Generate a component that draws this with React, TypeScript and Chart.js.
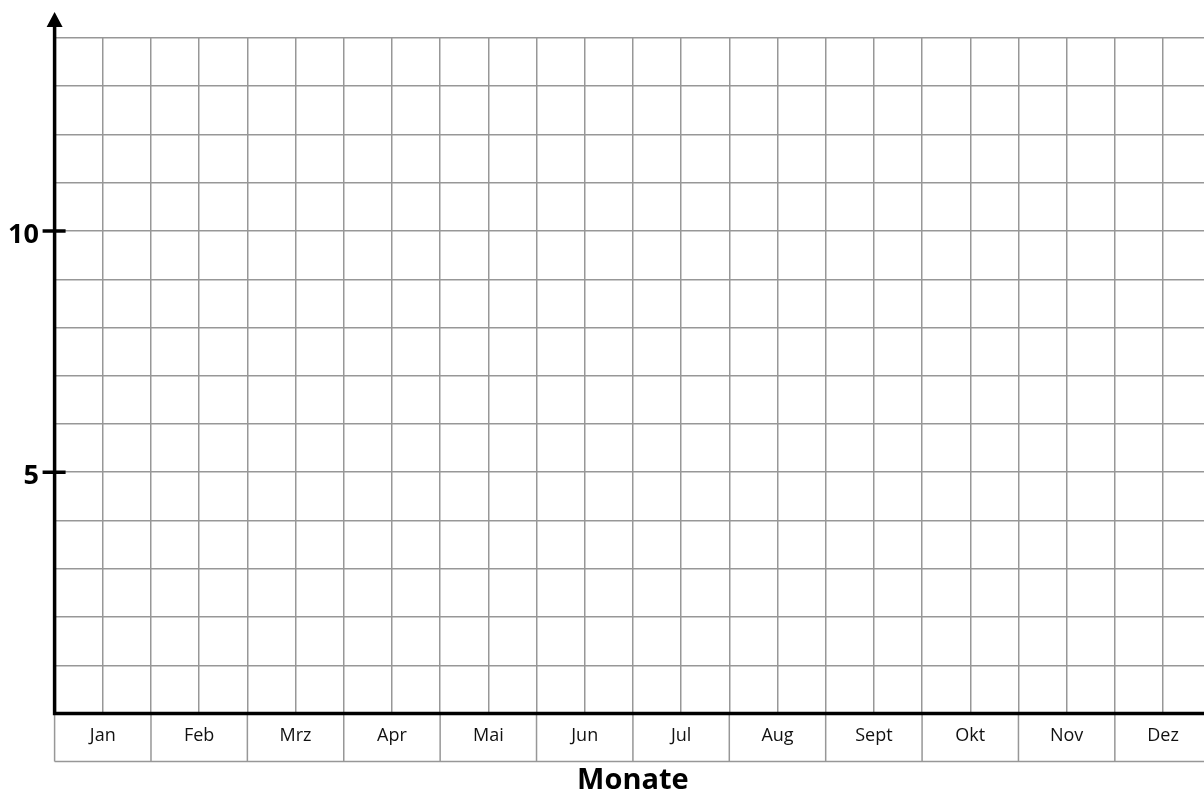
import React, { useEffect, useRef } from "react";
import { Chart, registerables } from "chart.js";

Chart.register(...registerables);

const months = ["Jan", "Feb", "Mrz", "Apr", "Mai", "Jun", "Jul", "Aug", "Sept", "Okt", "Nov", "Dez"];
const yTickValues = [5, 10];
const yMax = 14;
const cellsPerMonth = 2;
const xVisibleMax = 23.85;
const xTitle = "Monate";

const GRID = "#979797";

const axesPlugin = {
  id: "worksheetAxes",
  afterDraw(chart: any) {
    const { ctx } = chart;
    const xs = chart.scales.x;
    const ys = chart.scales.y;
    const x0 = xs.getPixelForValue(0);
    const y0 = ys.getPixelForValue(0);
    ctx.save();

    // month boxes below the axis
    const boxH = 48;
    ctx.strokeStyle = GRID;
    ctx.lineWidth = 1.5;
    ctx.beginPath();
    for (let i = 0; i <= months.length; i++) {
      const px = xs.getPixelForValue(i * cellsPerMonth);
      ctx.moveTo(px, y0);
      ctx.lineTo(px, y0 + boxH);
    }
    ctx.moveTo(x0, y0 + boxH);
    ctx.lineTo(xs.getPixelForValue(months.length * cellsPerMonth), y0 + boxH);
    ctx.stroke();

    ctx.fillStyle = "#111";
    ctx.font = "18px 'Open Sans'";
    ctx.textAlign = "center";
    ctx.textBaseline = "alphabetic";
    months.forEach((m, i) => {
      const px = xs.getPixelForValue(i * cellsPerMonth + cellsPerMonth / 2);
      ctx.fillText(m, px, y0 + 27);
    });

    // title
    ctx.fillStyle = "#000";
    ctx.font = "bold 29px 'Open Sans'";
    ctx.fillText(xTitle, xs.getPixelForValue((months.length * cellsPerMonth) / 2), y0 + 75);

    // axes
    ctx.strokeStyle = "#000";
    ctx.lineWidth = 3.5;
    ctx.beginPath();
    ctx.moveTo(x0, y0 + 1.75);
    ctx.lineTo(x0, 24);
    ctx.moveTo(x0 - 1.75, y0);
    ctx.lineTo(chart.width, y0);
    ctx.stroke();

    // arrow head
    ctx.fillStyle = "#000";
    ctx.beginPath();
    ctx.moveTo(x0, 12);
    ctx.lineTo(x0 - 8, 27);
    ctx.lineTo(x0 + 8, 27);
    ctx.closePath();
    ctx.fill();

    // y ticks + labels
    ctx.font = "bold 27px 'Open Sans'";
    ctx.textAlign = "right";
    yTickValues.forEach((v) => {
      const py = ys.getPixelForValue(v);
      ctx.beginPath();
      ctx.moveTo(x0 - 12, py);
      ctx.lineTo(x0 + 11, py);
      ctx.stroke();
      ctx.fillText(String(v), 39, py + 12);
    });

    ctx.restore();
  },
};

export default function App() {
  const ref = useRef<HTMLCanvasElement | null>(null);
  useEffect(() => {
    if (!ref.current) return;
    const chart = new Chart(ref.current, {
      type: "scatter",
      data: { datasets: [{ data: [] }] },
      options: {
        responsive: false,
        animation: false,
        layout: { padding: { top: 38, left: 0, right: 0, bottom: 0 } },
        plugins: { legend: { display: false }, tooltip: { enabled: false } },
        scales: {
          x: {
            type: "linear",
            min: 0,
            max: xVisibleMax,
            ticks: { display: false, stepSize: 1, includeBounds: false },
            grid: { color: GRID, lineWidth: 1.5, drawTicks: false },
            border: { display: false },
            afterFit: (s: any) => {
              s.height = 80.5;
            },
          },
          y: {
            type: "linear",
            min: 0,
            max: yMax,
            ticks: { display: false, stepSize: 1 },
            grid: { color: GRID, lineWidth: 1.5, drawTicks: false },
            border: { display: false },
            afterFit: (s: any) => {
              s.width = 54.6;
            },
          },
        },
      },
      plugins: [axesPlugin],
    } as any);
    return () => chart.destroy();
  }, []);
  return (
    <div style={{ position: "absolute", left: 0, top: 0, width: 1204, height: 794, background: "#fff" }}>
      <canvas ref={ref} width={1204} height={794} style={{ display: "block" }} />
    </div>
  );
}
